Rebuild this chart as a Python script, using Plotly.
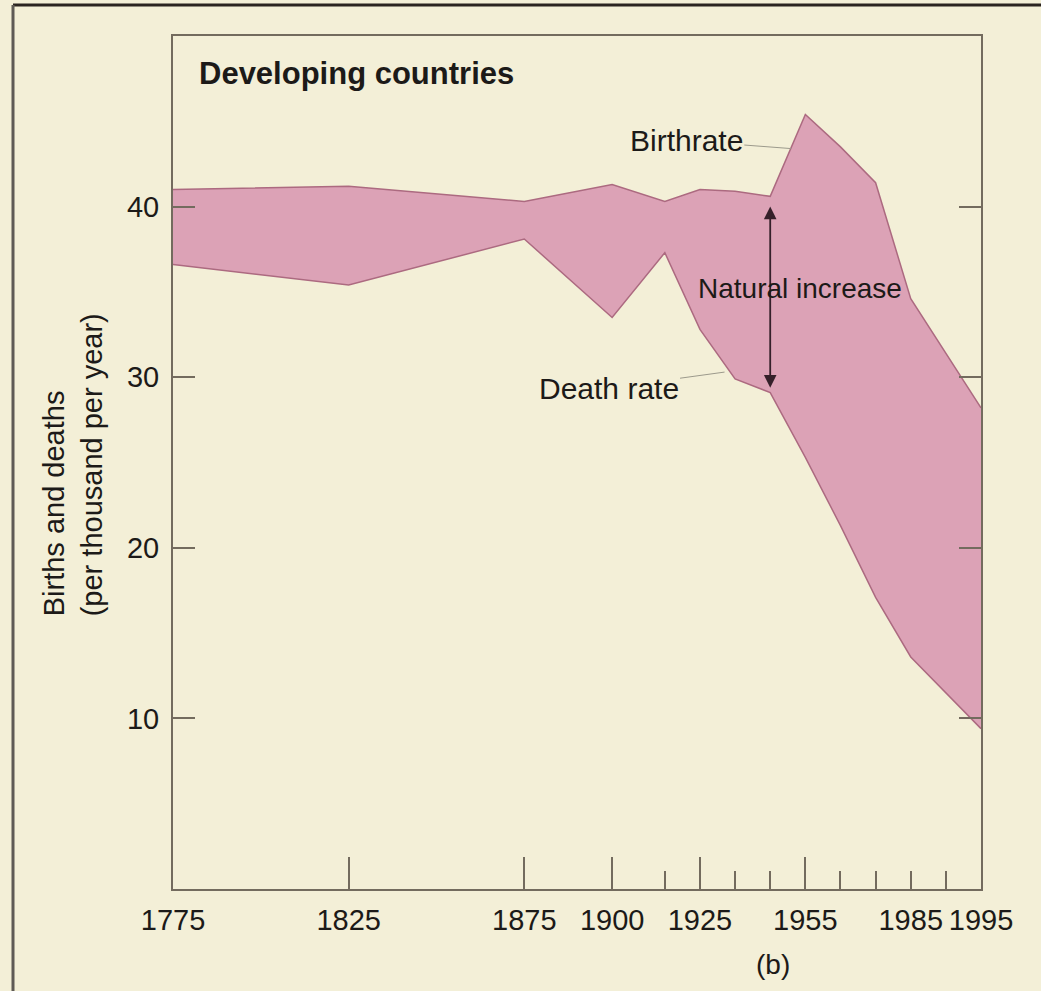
import plotly.graph_objects as go

# ---- data ----
years = [1775, 1825, 1875, 1900, 1915, 1925, 1935, 1945, 1955, 1965, 1975, 1985, 1995]
birthrate = [41.0, 41.2, 40.3, 41.3, 40.3, 41.0, 40.9, 40.6, 45.4, 43.5, 41.4, 34.6, 28.2]
death_rate = [36.6, 35.4, 38.1, 33.5, 37.3, 32.8, 29.9, 29.1, 25.3, 21.3, 17.1, 13.6, 9.4]

x_label_years = [1775, 1825, 1875, 1900, 1925, 1955, 1985, 1995]
major_tick_years = [1825, 1875, 1900, 1925, 1955]
minor_tick_years = [1915, 1935, 1945, 1965, 1975, 1985, 1990]
y_tick_values = [10, 20, 30, 40]


def time_axis(year):
    """The source figure draws its last decade (1985-1995) at double width."""
    return year + max(0, year - 1985)


xs = [time_axis(y) for y in years]
x_range = [time_axis(1775), time_axis(1995)]

BG = "#F3EFD7"
FILL = "rgb(220,162,182)"
EDGE = "rgb(172,106,128)"
AXIS = "#736b5e"
TEXT = "#1c1a18"
FONT = "Liberation Sans, Arial, Helvetica, sans-serif"

fig = go.Figure()
fig.add_trace(go.Scatter(x=xs, y=death_rate, mode="lines",
                         line=dict(color=EDGE, width=1.5), hoverinfo="skip",
                         showlegend=False, name="Death rate"))
fig.add_trace(go.Scatter(x=xs, y=birthrate, mode="lines", fill="tonexty",
                         fillcolor=FILL, line=dict(color=EDGE, width=1.5),
                         hoverinfo="skip", showlegend=False, name="Birthrate"))
# invisible trace on the tick-only axis so it is drawn
fig.add_trace(go.Scatter(x=[xs[0]], y=[death_rate[0]], xaxis="x2", mode="markers",
                         marker=dict(opacity=0), hoverinfo="skip", showlegend=False))

fig.update_layout(
    width=1041, height=991,
    margin=dict(l=173, r=60, t=36, b=102),
    paper_bgcolor=BG, plot_bgcolor=BG,
    font=dict(family=FONT, color=TEXT, size=29),
    xaxis=dict(range=x_range, showgrid=False, zeroline=False,
               showline=True, linecolor=AXIS, linewidth=2, mirror=True,
               tickmode="array", tickvals=[time_axis(y) for y in x_label_years],
               ticktext=[str(y) for y in x_label_years], ticks="",
               tickangle=0, ticklabelstandoff=4,
               tickfont=dict(size=29, color=TEXT)),
    xaxis2=dict(range=x_range, overlaying="x", side="bottom", anchor="y",
                showgrid=False, zeroline=False, showline=False,
                showticklabels=False, tickmode="array",
                tickvals=[time_axis(y) for y in major_tick_years],
                ticks="inside", ticklen=32, tickwidth=2, tickcolor=AXIS,
                minor=dict(tickmode="array",
                           tickvals=[time_axis(y) for y in minor_tick_years],
                           ticks="inside", ticklen=18, tickwidth=2, tickcolor=AXIS)),
    yaxis=dict(range=[0, 50], showgrid=False, zeroline=False,
               showline=True, linecolor=AXIS, linewidth=2, mirror="ticks",
               tickmode="array", tickvals=y_tick_values,
               ticks="inside", ticklen=22, tickwidth=2, tickcolor=AXIS,
               ticklabelstandoff=6, tickfont=dict(size=29, color=TEXT)),
)

# y-axis title (two lines, aligned at the bottom as in the reference)
fig.add_annotation(xref="paper", yref="paper", x=-0.124, y=(889 - 618) / 853,
                   xanchor="center", yanchor="bottom", textangle=-90,
                   text="Births and deaths<br>(per thousand per year)",
                   align="left", showarrow=False, font=dict(size=29, color=TEXT))

fig.add_annotation(xref="paper", yref="paper", x=0.030, y=0.956,
                   xanchor="left", yanchor="middle", showarrow=False,
                   text="<b>Developing countries</b>", font=dict(size=31, color=TEXT))

fig.add_annotation(xref="paper", yref="paper", x=0.743, y=-0.089,
                   xanchor="center", yanchor="middle", showarrow=False,
                   text="(b)", font=dict(size=28, color=TEXT))

# Natural increase double arrow between the two curves at 1945
fig.add_annotation(x=time_axis(1945), y=40.0, ax=time_axis(1945), ay=29.3,
                   xref="x", yref="y", axref="x", ayref="y", text="",
                   showarrow=True, arrowside="end+start", arrowhead=2,
                   arrowsize=1.4, arrowwidth=1.8, arrowcolor="#35202a")
fig.add_annotation(x=time_axis(1953.5), y=35.2, xref="x", yref="y",
                   text="Natural increase", showarrow=False,
                   font=dict(size=28, color=TEXT))

fig.add_annotation(x=time_axis(1951), y=43.4, xref="x", yref="y",
                   text="Birthrate", showarrow=True, arrowhead=0,
                   arrowwidth=1, arrowcolor="#9c9a8c", ax=-105, ay=-8,
                   font=dict(size=30, color=TEXT))
fig.add_annotation(x=time_axis(1932), y=30.3, xref="x", yref="y",
                   text="Death rate", showarrow=True, arrowhead=0,
                   arrowwidth=1, arrowcolor="#9c9a8c", ax=-116, ay=16,
                   font=dict(size=30, color=TEXT))

# outer frame of the original figure (top and left edges)
fig.add_shape(type="line", xref="paper", yref="paper",
              x0=(13 - 173) / 808, x1=(1045 - 173) / 808,
              y0=(889 - 5) / 853, y1=(889 - 5) / 853,
              line=dict(color="#2a2420", width=3))
fig.add_shape(type="line", xref="paper", yref="paper",
              x0=(13 - 173) / 808, x1=(13 - 173) / 808,
              y0=(889 - 5) / 853, y1=(889 - 995) / 853,
              line=dict(color="#5e5a55", width=3))

fig.write_html("out.html", config={"displayModeBar": False},
               post_script="document.body.style.margin='0';")
